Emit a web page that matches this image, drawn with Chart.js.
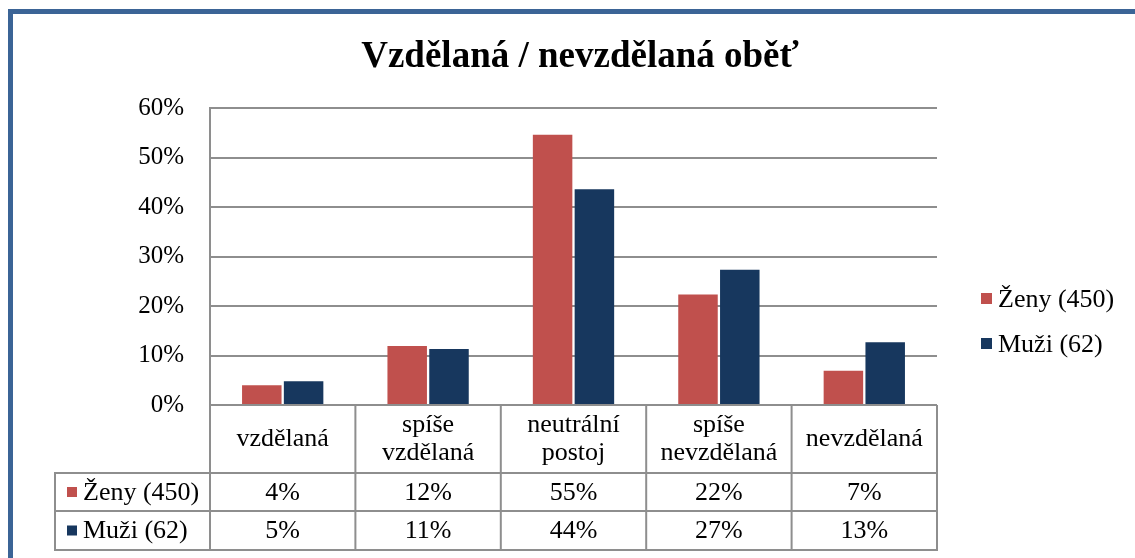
<!DOCTYPE html>
<html>
<head>
<meta charset="utf-8">
<script src="https://cdn.jsdelivr.net/npm/chart.js@4"></script>
<style>
  html, body { margin: 0; padding: 0; background: #fff; }
  #wrap { width: 1135px; height: 558px; }
</style>
</head>
<body>
<div id="wrap"><canvas id="chart" width="1135" height="558"></canvas></div>
<script>
// categories (multi-line labels for the table header)
const categories = [['vzdělaná'], ['spíše', 'vzdělaná'], ['neutrální', 'postoj'], ['spíše', 'nevzdělaná'], ['nevzdělaná']];
const seriesNames = ['Ženy (450)', 'Muži (62)'];
// values in percent
const zenyValues = [4.0, 11.9, 54.6, 22.3, 6.9];
const muziValues = [4.8, 11.3, 43.6, 27.3, 12.7];
const yTicks = [0, 10, 20, 30, 40, 50, 60];

const RED = '#c0504d';
const NAVY = '#17375e';
const GRID = '#8e8e8e';
const FONT = '"Liberation Serif", "Times New Roman", serif';

const pct = v => Math.round(v) + '%';

// frame, title, data table and right legend
const extras = {
    id: 'extras',
    beforeDraw: function(chart) {
        const ctx = chart.ctx;
        ctx.save();
        ctx.fillStyle = '#fff';
        ctx.fillRect(0, 0, chart.width, chart.height);
        ctx.fillStyle = '#3b6496';
        ctx.fillRect(8, 9, 5, chart.height - 9);
        ctx.fillRect(8, 9, chart.width - 8, 5);
        ctx.restore();
    },
    afterDraw: function(chart) {
        const ctx = chart.ctx;
        const area = chart.chartArea;
        const x = chart.scales.x;
        const half = (x.getPixelForValue(1) - x.getPixelForValue(0)) / 2;
        const rows = [area.bottom, 473, 511, 550];
        const tableLeft = 55;

        ctx.save();

        // title
        ctx.fillStyle = '#000';
        ctx.font = 'bold 37px ' + FONT;
        ctx.textAlign = 'center';
        ctx.textBaseline = 'alphabetic';
        ctx.fillText('Vzdělaná / nevzdělaná oběť', 580, 67);

        // table grid
        ctx.strokeStyle = GRID;
        ctx.lineWidth = 2;
        ctx.beginPath();
        for (let i = 1; i < rows.length; i++) {
            ctx.moveTo(tableLeft, rows[i]);
            ctx.lineTo(area.right + 1, rows[i]);
        }
        ctx.moveTo(tableLeft, rows[1] - 1);
        ctx.lineTo(tableLeft, rows[3] + 1);
        for (let i = 0; i <= categories.length; i++) {
            const px = i === 0 ? area.left : (i === categories.length ? area.right : x.getPixelForValue(i) - half);
            ctx.moveTo(px, area.bottom);
            ctx.lineTo(px, rows[3] + 1);
        }
        ctx.stroke();

        // header labels
        ctx.font = '26px ' + FONT;
        ctx.textBaseline = 'middle';
        ctx.textAlign = 'center';
        const headMid = (rows[0] + rows[1]) / 2;
        categories.forEach(function(lines, i) {
            const cx = x.getPixelForValue(i);
            const lh = 28;
            lines.forEach(function(line, j) {
                ctx.fillText(line, cx, headMid + (j - (lines.length - 1) / 2) * lh);
            });
        });

        // value rows
        const series = [zenyValues, muziValues];
        const colors = [RED, NAVY];
        series.forEach(function(vals, r) {
            const my = (rows[r + 1] + rows[r + 2]) / 2;
            ctx.textAlign = 'center';
            ctx.fillStyle = '#000';
            vals.forEach(function(v, i) {
                ctx.fillText(pct(v), x.getPixelForValue(i), my + 1);
            });
            ctx.fillStyle = colors[r];
            ctx.fillRect(67, my - 5, 10, 10);
            ctx.fillStyle = '#000';
            ctx.textAlign = 'left';
            ctx.fillText(seriesNames[r], 83, my + 1);
        });

        // legend on the right
        const legY = [298, 343];
        seriesNames.forEach(function(name, r) {
            ctx.fillStyle = colors[r];
            ctx.fillRect(981, legY[r] - 5, 11, 11);
            ctx.fillStyle = '#000';
            ctx.textAlign = 'left';
            ctx.fillText(name, 998, legY[r] + 2);
        });

        ctx.restore();
    }
};

new Chart(document.getElementById('chart'), {
    type: 'bar',
    data: {
        labels: categories,
        datasets: [
            { label: seriesNames[0], data: zenyValues, backgroundColor: RED },
            { label: seriesNames[1], data: muziValues, backgroundColor: NAVY }
        ]
    },
    options: {
        responsive: false,
        animation: false,
        devicePixelRatio: 1,
        layout: { padding: { left: 0, top: 108, right: 198, bottom: 153 } },
        datasets: { bar: { categoryPercentage: 0.575, barPercentage: 0.945 } },
        scales: {
            x: { display: false },
            y: {
                min: 0,
                max: 60,
                afterFit: function(scale) { scale.width = 210; },
                afterBuildTicks: function(scale) { scale.ticks = yTicks.map(v => ({ value: v })); },
                ticks: {
                    padding: 26,
                    color: '#000',
                    font: { family: FONT, size: 25 },
                    callback: v => v + '%'
                },
                grid: { color: GRID, lineWidth: 2, drawTicks: false },
                border: { color: GRID, width: 2 }
            }
        },
        plugins: {
            legend: { display: false },
            title: { display: false },
            tooltip: { enabled: false }
        }
    },
    plugins: [extras]
});
</script>
</body>
</html>
